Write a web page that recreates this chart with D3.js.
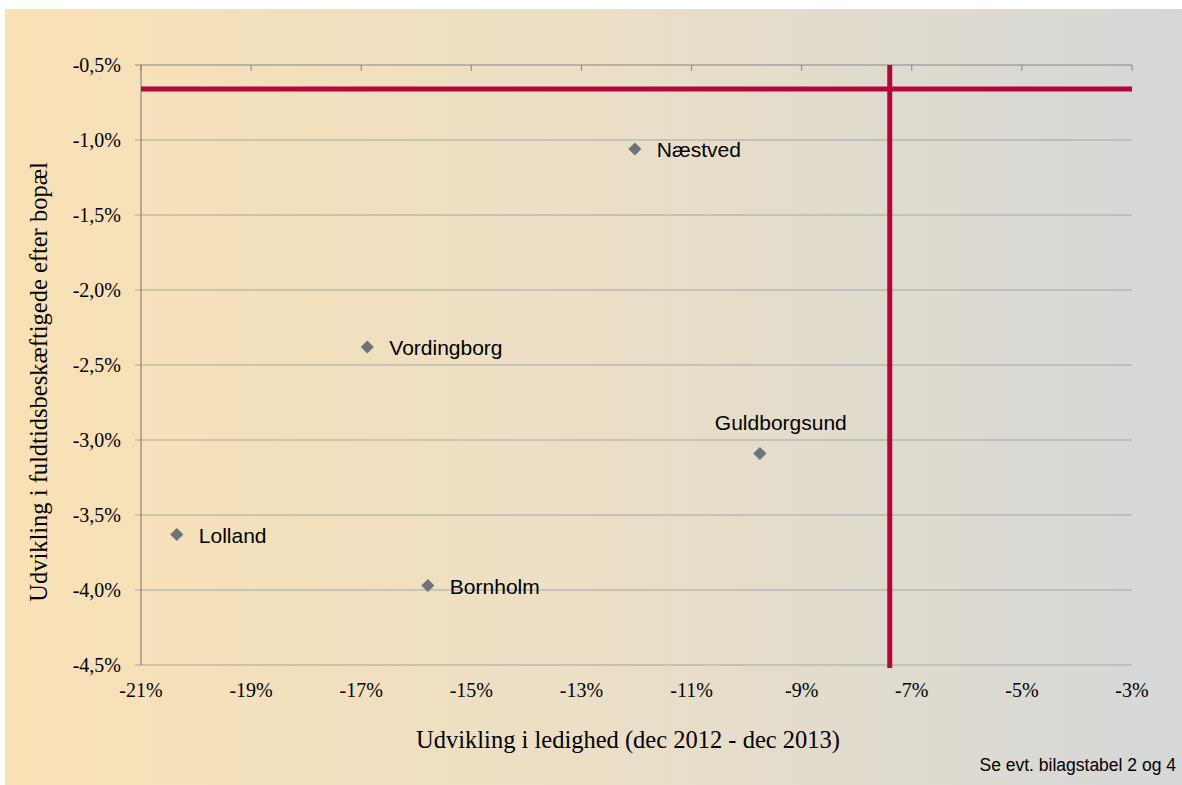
<!DOCTYPE html>
<html>
<head>
<meta charset="utf-8">
<script src="https://cdn.jsdelivr.net/npm/d3@7"></script>
<style>
	body { margin: 0; background: #ffffff; }
	svg { display: block; }
	.serif { font-family: 'Liberation Serif', 'Times New Roman', serif; }
	.sans { font-family: 'Liberation Sans', Arial, sans-serif; }
</style>
</head>
<body>
<svg id="chart" width="1182" height="785"></svg>
<script>
// municipalities and their values
var names = ["Næstved", "Vordingborg", "Guldborgsund", "Lolland", "Bornholm"];
var ledighed = [-12.03, -16.89, -9.76, -20.35, -15.79];        // x, %
var beskaeftigelse = [-1.06, -2.38, -3.09, -3.63, -3.97];    // y, %
var labelPos = ["right", "right", "top", "right", "right"];

// reference lines (averages)
var avgLedighed = -7.4;
var avgBeskaeftigelse = -0.66;

var xTicks = [-21, -19, -17, -15, -13, -11, -9, -7, -5, -3];
var yTicks = [-0.5, -1.0, -1.5, -2.0, -2.5, -3.0, -3.5, -4.0, -4.5];

var xTitle = "Udvikling i ledighed (dec 2012 - dec 2013)";
var yTitle = "Udvikling i fuldtidsbeskæftigede efter bopæl";
var note = "Se evt. bilagstabel 2 og 4";

var svg = d3.select("#chart");

// background gradient
var defs = svg.append("defs");
var grad = defs.append("linearGradient")
	.attr("id", "bg")
	.attr("x1", "0%").attr("x2", "100%")
	.attr("y1", "0%").attr("y2", "0%");
grad.append("stop").attr("offset", "0%").attr("stop-color", "#f9e1b5");
grad.append("stop").attr("offset", "50%").attr("stop-color", "#ebdfc6");
grad.append("stop").attr("offset", "100%").attr("stop-color", "#d5d7d8");

svg.append("rect")
	.attr("x", 5).attr("y", 9)
	.attr("width", 1177).attr("height", 776)
	.attr("fill", "url(#bg)");

var margin = { top: 65, right: 50, bottom: 120, left: 141 };
var width = 1132 - margin.left,
	height = 665 - margin.top;

var x = d3.scaleLinear().domain([-21, -3]).range([0, width]);
var y = d3.scaleLinear().domain([-4.5, -0.5]).range([height, 0]);

var g = svg.append("g")
	.attr("transform", "translate(" + margin.left + "," + margin.top + ")");

var fmtY = function (d) { return d3.format(".1f")(d).replace(".", ",").replace("−", "-") + "%"; };
var fmtX = function (d) { return d + "%"; };

// horizontal gridlines + left ticks
g.append("g").selectAll("line")
	.data(yTicks)
	.enter().append("line")
	.attr("x1", -6).attr("x2", width)
	.attr("y1", function (d) { return y(d); })
	.attr("y2", function (d) { return y(d); })
	.attr("stroke", function (d) { return d === -0.5 ? "#858585" : "#a6a6a6"; })
	.attr("stroke-width", 1.2);

// left axis line
g.append("line")
	.attr("x1", 0).attr("x2", 0)
	.attr("y1", 0).attr("y2", height)
	.attr("stroke", "#858585")
	.attr("stroke-width", 1.2);

// x ticks hanging from the top line
g.append("g").selectAll("line")
	.data(xTicks)
	.enter().append("line")
	.attr("x1", function (d) { return x(d); })
	.attr("x2", function (d) { return x(d); })
	.attr("y1", 0).attr("y2", 6)
	.attr("stroke", "#858585")
	.attr("stroke-width", 1);

// y tick labels
g.append("g").selectAll("text")
	.data(yTicks)
	.enter().append("text")
	.attr("class", "serif")
	.attr("x", -20)
	.attr("y", function (d) { return y(d); })
	.attr("dy", "0.35em")
	.attr("text-anchor", "end")
	.style("font-size", "20px")
	.attr("fill", "#000")
	.text(fmtY);

// x tick labels
g.append("g").selectAll("text")
	.data(xTicks)
	.enter().append("text")
	.attr("class", "serif")
	.attr("x", function (d) { return x(d); })
	.attr("y", height + 32)
	.attr("text-anchor", "middle")
	.style("font-size", "20px")
	.attr("fill", "#000")
	.text(fmtX);

// red average lines
g.append("line")
	.attr("x1", 0).attr("x2", width)
	.attr("y1", y(avgBeskaeftigelse)).attr("y2", y(avgBeskaeftigelse))
	.attr("stroke", "#b3063a")
	.attr("stroke-width", 5);
g.append("line")
	.attr("x1", x(avgLedighed)).attr("x2", x(avgLedighed))
	.attr("y1", 0).attr("y2", height + 3)
	.attr("stroke", "#b3063a")
	.attr("stroke-width", 5);

// points
var points = names.map(function (n, i) {
	return { name: n, x: ledighed[i], y: beskaeftigelse[i], pos: labelPos[i] };
});

var node = g.append("g").selectAll(".pt")
	.data(points)
	.enter().append("g")
	.attr("class", "pt")
	.attr("transform", function (d) { return "translate(" + x(d.x) + "," + y(d.y) + ")"; });

node.append("path")
	.attr("d", d3.symbol().type(d3.symbolDiamond2).size(110))
	.attr("fill", "#6d7479");

node.append("text")
	.attr("class", "sans")
	.attr("x", function (d) { return d.pos === "top" ? 21 : 22; })
	.attr("y", function (d) { return d.pos === "top" ? -31 : 1; })
	.attr("dy", "0.35em")
	.attr("text-anchor", function (d) { return d.pos === "top" ? "middle" : "start"; })
	.style("font-size", "21px")
	.attr("fill", "#000")
	.text(function (d) { return d.name; });

// axis titles
svg.append("text")
	.attr("class", "serif")
	.attr("x", 628).attr("y", 748)
	.attr("text-anchor", "middle")
	.style("font-size", "24.5px")
	.text(xTitle);

svg.append("text")
	.attr("class", "serif")
	.attr("transform", "translate(47,382) rotate(-90)")
	.attr("text-anchor", "middle")
	.style("font-size", "24.5px")
	.text(yTitle);

svg.append("text")
	.attr("class", "sans")
	.attr("x", 1176).attr("y", 771)
	.attr("text-anchor", "end")
	.style("font-size", "17.5px")
	.text(note);
</script>
</body>
</html>
